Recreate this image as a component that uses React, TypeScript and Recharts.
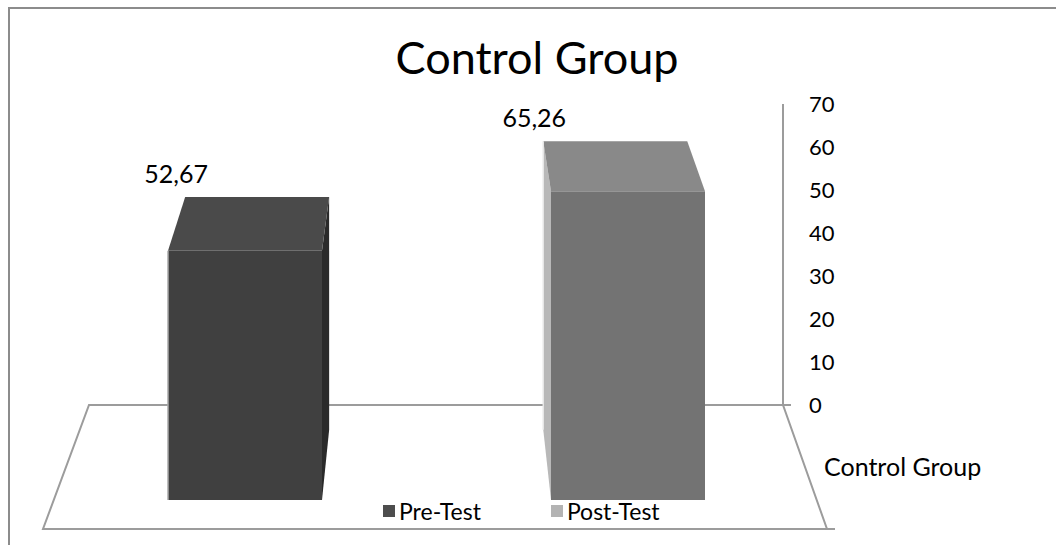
import React from 'react'
import { BarChart, Bar, XAxis, YAxis, Legend } from 'recharts'

// chart values
const categories = ['Control Group']
const preTest = [52.67]
const postTest = [65.26]
const yTicks = [0, 10, 20, 30, 40, 50, 60, 70]
const seriesNames = ['Pre-Test', 'Post-Test']

const data = categories.map((name, i) => ({
  name,
  pre: preTest[i],
  post: postTest[i]
}))

const W = 1056
const H = 545
const MARGIN = { top: 104, right: 213, bottom: 140, left: 89 }
const Y_AXIS_W = 60
const FONT = 'Lato, "Open Sans", sans-serif'

// fake 3D: vanishing point + depth factor for the box backs
const VP = { x: 432, y: -579 }
const DEPTH = 0.065
const FRONT_DROP = 95
const FRONT_SCALE = 1.1

const FACES = {
  pre: { front: '#404040', top: '#4a4a4a', side: '#2a2a2a', edge: '#a8a8a8' },
  post: { front: '#737373', top: '#898989', side: '#b8b8b8', edge: '#e6e6e6' }
}

const LEGEND_COLORS = ['#4d4d4d', '#b3b3b3']

const pts = (list: number[][]) => list.map((p) => p.join(',')).join(' ')

const back = (px: number, py: number) => [
  px + DEPTH * (VP.x - px),
  py + DEPTH * (VP.y - py)
]

const make3DBar = (faces: typeof FACES.pre) => (props: any) => {
  const { x, y, width, height, value } = props
  const base = y + height + FRONT_DROP
  const top = base - height * FRONT_SCALE
  const left = x
  const right = x + width
  const [btlx, bty] = back(left, top)
  const [btrx] = back(right, top)
  const [bblx, bby] = back(left, base)
  const [bbrx] = back(right, base)

  let side: number[][] | null = null
  let edgeX = left
  if (left > VP.x) {
    side = [[left, top], [btlx, bty], [bblx, bby], [left, base]]
  } else if (right < VP.x) {
    side = [[right, top], [btrx, bty], [bbrx, bby], [right, base]]
  }
  if (left > VP.x) edgeX = btlx

  const label = Number(value).toFixed(2).replace('.', ',')

  return (
    <g>
      {side && <polygon points={pts(side)} fill={faces.side} />}
      <polygon
        points={pts([[left, top], [right, top], [btrx, bty], [btlx, bty]])}
        fill={faces.top}
      />
      <rect x={left} y={top} width={width} height={base - top} fill={faces.front} />
      <line
        x1={edgeX}
        y1={left > VP.x ? bty : top}
        x2={edgeX}
        y2={left > VP.x ? bby : base}
        stroke={faces.edge}
        strokeWidth={1.5}
      />
      <text
        x={btlx - 9}
        y={bty - 14}
        textAnchor="middle"
        fontFamily={FONT}
        fontSize={25}
        fill="#000"
      >
        {label}
      </text>
    </g>
  )
}

// floor of the 3D plot, behind the boxes
const Floor = () => {
  const bl = [MARGIN.left, MARGIN.top + 301]
  const br = [W - MARGIN.right - Y_AXIS_W, MARGIN.top + 301]
  const fr = [br[0] + 44, br[1] + 124]
  const fl = [bl[0] - 46, bl[1] + 124]
  return (
    <g>
      <polygon
        points={pts([bl, br, fr, fl])}
        fill="none"
        stroke="#9c9c9c"
        strokeWidth={2}
      />
      <line x1={br[0]} y1={br[1]} x2={br[0] + 8} y2={br[1]} stroke="#9c9c9c" strokeWidth={2} />
      <line x1={fr[0]} y1={fr[1]} x2={fr[0] + 8} y2={fr[1]} stroke="#9c9c9c" strokeWidth={2} />
      <text
        x={824}
        y={466}
        dominantBaseline="central"
        fontFamily={FONT}
        fontSize={25}
        fill="#000"
      >
        {categories[0]}
      </text>
      <text
        x={537}
        y={74}
        textAnchor="middle"
        fontFamily={FONT}
        fontSize={45}
        fill="#000"
      >
        Control Group
      </text>
    </g>
  )
}

const renderLegend = () => (
  <div style={{ display: 'flex', alignItems: 'center', fontFamily: FONT, fontSize: 23, color: '#000' }}>
    {seriesNames.map((name, i) => (
      <div key={name} style={{ display: 'flex', alignItems: 'center', marginRight: i === 0 ? 70 : 0 }}>
        <span style={{ width: 12, height: 12, background: LEGEND_COLORS[i], marginRight: 4, display: 'inline-block' }} />
        <span>{name}</span>
      </div>
    ))}
  </div>
)

export default function App() {
  return (
    <div style={{ position: 'absolute', left: 0, top: 0, width: W, height: H, background: '#fff' }}>
      <div
        style={{
          position: 'absolute',
          left: 8,
          top: 7,
          right: 0,
          bottom: 0,
          borderTop: '2px solid #8c8c8c',
          borderLeft: '2px solid #8c8c8c'
        }}
      />
      <BarChart
        width={W}
        height={H}
        data={data}
        margin={MARGIN}
        barSize={154}
        barGap={229}
        style={{ position: 'absolute', left: 0, top: 0 }}
      >
        <Floor />
        <XAxis dataKey="name" hide />
        <YAxis
          orientation="right"
          width={Y_AXIS_W}
          domain={[0, 70]}
          ticks={yTicks}
          interval={0}
          axisLine={{ stroke: '#9c9c9c', strokeWidth: 2 }}
          tickLine={false}
          tickSize={0}
          tickMargin={26}
          tick={{ fontFamily: FONT, fontSize: 22, fill: '#000', textAnchor: 'start' }}
        />
        <Legend
          layout="horizontal"
          verticalAlign="middle"
          align="center"
          content={renderLegend}
          wrapperStyle={{ position: 'absolute', left: 383, top: 497, width: 'auto' }}
        />
        <Bar
          dataKey="pre"
          name={seriesNames[0]}
          fill={LEGEND_COLORS[0]}
          shape={make3DBar(FACES.pre)}
          isAnimationActive={false}
        />
        <Bar
          dataKey="post"
          name={seriesNames[1]}
          fill={LEGEND_COLORS[1]}
          shape={make3DBar(FACES.post)}
          isAnimationActive={false}
        />
      </BarChart>
    </div>
  )
}
